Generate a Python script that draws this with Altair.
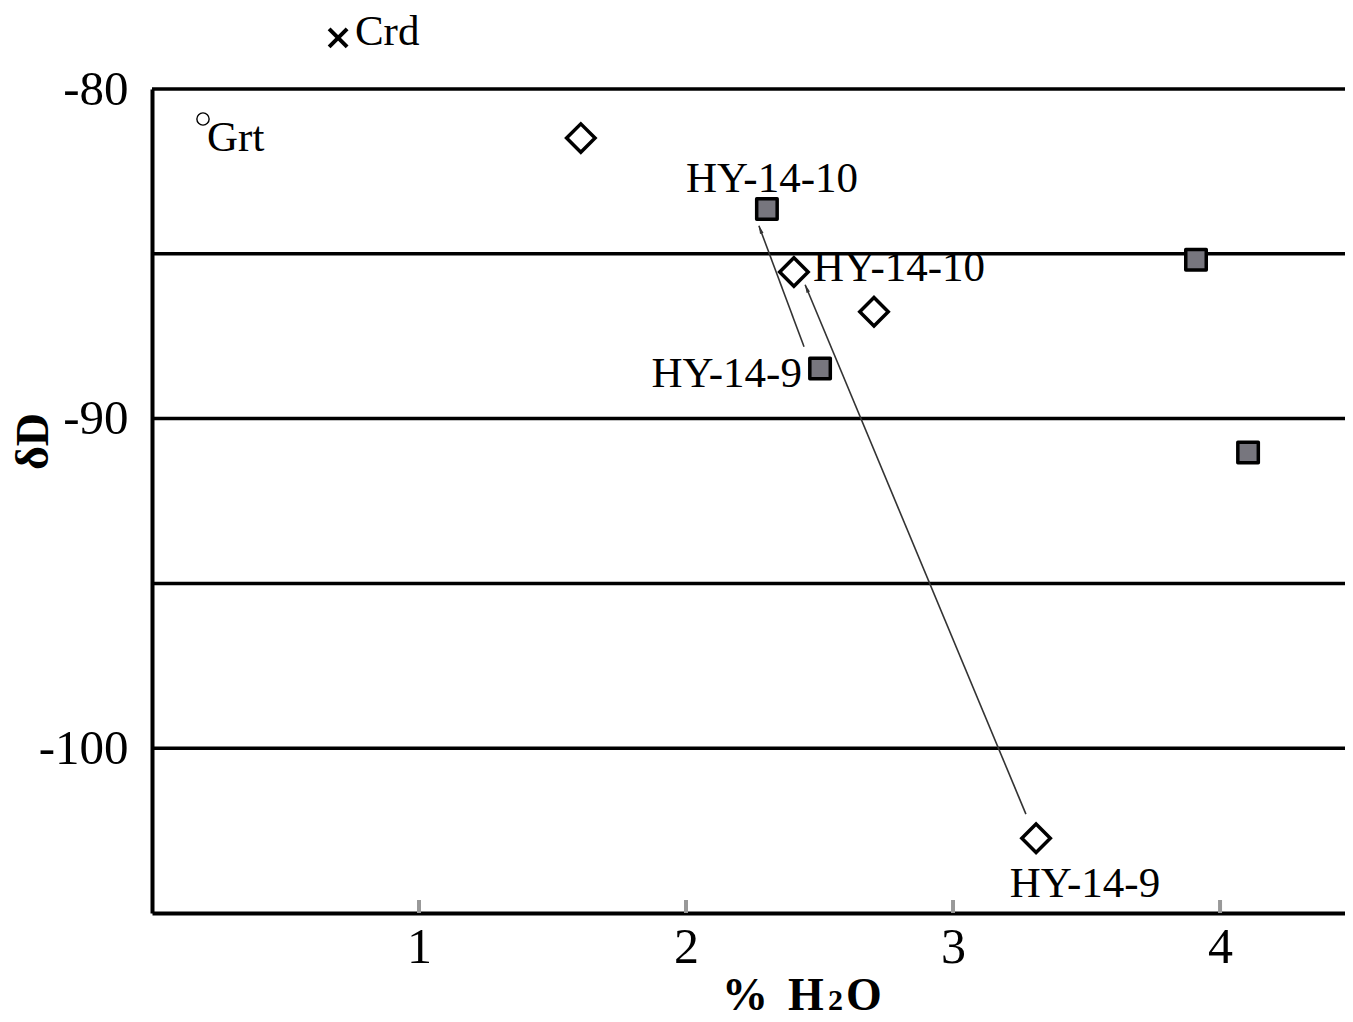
import math
import altair as alt
import pandas as pd

# ---------------- data ----------------
diamond_x = [1.606, 2.404, 2.704, 3.311]
diamond_y = [-81.49, -85.55, -86.76, -102.73]
square_x = [2.303, 2.502, 3.910, 4.105]
square_y = [-83.64, -88.48, -85.18, -91.03]
crd_x = [0.697]
crd_y = [-78.45]
grt_x = [0.191]
grt_y = [-80.91]
arrow_x0 = [2.442, 3.273]
arrow_y0 = [-87.82, -102.0]
arrow_x1 = [2.273, 2.446]
arrow_y1 = [-84.15, -85.94]
grid_y = [-80, -85, -90, -95, -100]
x_ticks = [1, 2, 3, 4]
y_labels = [-80, -90, -100]
lab_center_text = ["HY-14-10", "HY-14-9"]
lab_center_x = [2.322, 3.494]
lab_center_y = [-83.12, -104.52]
lab_left_text = ["HY-14-10", "Crd", "Grt"]
lab_left_x = [2.476, 0.760, 0.206]
lab_left_y = [-85.82, -78.65, -81.88]
lab_right_text = ["HY-14-9"]
lab_right_x = [2.434]
lab_right_y = [-89.03]
x_title_parts = ["%", "H", "2", "O"]

# ---------------- layout ----------------
W, H = 1193, 824
XMIN, XMAX = 0, 4.468
YMIN, YMAX = -105, -80
FONT = "Liberation Serif"

xs = alt.Scale(domain=[XMIN, XMAX], nice=False, zero=False)
ys = alt.Scale(domain=[YMIN, YMAX], nice=False, zero=False)

x_axis = alt.Axis(values=x_ticks, ticks=False, grid=False, domainColor="black",
                  domainWidth=4, labelFontSize=50, labelPadding=9, labelColor="black",
                  labelFont=FONT, labelExpr="datum.value + ''", title="")
y_axis = alt.Axis(values=y_labels, ticks=False, grid=False, domainColor="black",
                  domainWidth=4, labelFontSize=49, labelPadding=24, labelColor="black",
                  labelFont=FONT, labelExpr="datum.value + ''",
                  title="δD", titleFont=FONT, titleFontSize=46, titleFontWeight="bold",
                  titleColor="black", titleAngle=270, titleX=-119, titleY=352,
                  titleBaseline="middle", titleAlign="center")


def X(f="x"):
    return alt.X(f"{f}:Q", scale=xs, axis=x_axis)


def Y(f="y"):
    return alt.Y(f"{f}:Q", scale=ys, axis=y_axis)


px_x = W / (XMAX - XMIN)
px_y = H / (YMAX - YMIN)

# arrows
arrows = pd.DataFrame({"x": arrow_x0, "y": arrow_y0, "x2": arrow_x1, "y2": arrow_y1})
heads = []
for a, b, c, d in zip(arrow_x0, arrow_y0, arrow_x1, arrow_y1):
    dx = (c - a) * px_x
    dy = -(d - b) * px_y
    L = math.hypot(dx, dy)
    ang = math.degrees(math.atan2(dx, -dy)) % 360
    back = 4.0
    heads.append({"x": c - dx / L * back / px_x, "y": d + dy / L * back / px_y, "angle": ang})
heads = pd.DataFrame(heads)

grid = alt.Chart(pd.DataFrame({"y": grid_y})).mark_rule(color="black", strokeWidth=3.5).encode(y=Y())

xt = alt.Chart(pd.DataFrame({"x": x_ticks})).mark_rule(color="#999999", strokeWidth=4).encode(
    x=X(), y=alt.value(H - 13), y2=alt.value(H))

arrow_lines = alt.Chart(arrows).mark_rule(color="#333333", strokeWidth=1.6).encode(
    x=X(), y=Y(), x2="x2:Q", y2="y2:Q")
arrow_heads = alt.Chart(heads).mark_point(shape="M0,-1L0.45,1L-0.45,1Z", filled=True,
                                          color="#333333", size=70, opacity=1).encode(
    x=X(), y=Y(), angle=alt.Angle("angle:Q", scale=None))

diamonds = alt.Chart(pd.DataFrame({"x": diamond_x, "y": diamond_y})).mark_point(
    shape="diamond", size=810, filled=True, fill="white", stroke="black",
    strokeWidth=3.5, opacity=1).encode(x=X(), y=Y())

squares = alt.Chart(pd.DataFrame({"x": square_x, "y": square_y})).mark_point(
    shape="square", size=420, filled=True, fill="#77767e", stroke="black",
    strokeWidth=3.5, strokeJoin="round", opacity=1).encode(x=X(), y=Y())

crd = alt.Chart(pd.DataFrame({"x": crd_x, "y": crd_y})).mark_point(
    shape="M-1,-1L1,1M1,-1L-1,1", size=324, filled=False, stroke="black",
    strokeWidth=4, opacity=1).encode(x=X(), y=Y())

grt = alt.Chart(pd.DataFrame({"x": grt_x, "y": grt_y})).mark_point(
    shape="circle", size=150, filled=False, stroke="black", strokeWidth=1.4,
    opacity=1).encode(x=X(), y=Y())


def labels(text, x, y, align):
    return alt.Chart(pd.DataFrame({"t": text, "x": x, "y": y})).mark_text(
        font=FONT, fontSize=43, color="black", align=align, baseline="alphabetic").encode(
        x=X(), y=Y(), text="t:N")


# x-axis title "% H2O" with a smaller "2", composed of text pieces
TB = H + 97  # baseline of the title, below the plot area
title_specs = [(x_title_parts[0], 570, 46), (x_title_parts[1], 636, 46),
               (x_title_parts[2], 676, 30), (x_title_parts[3], 694, 46)]
title_layers = [
    alt.Chart(pd.DataFrame({"t": [t]})).mark_text(
        font=FONT, fontSize=fs, fontWeight="bold", color="black", align="left",
        baseline="alphabetic").encode(x=alt.value(px), y=alt.value(TB), text="t:N")
    for t, px, fs in title_specs
]

chart = alt.layer(
    grid, xt, arrow_lines, arrow_heads, diamonds, squares, crd, grt,
    labels(lab_center_text, lab_center_x, lab_center_y, "center"),
    labels(lab_left_text, lab_left_x, lab_left_y, "left"),
    labels(lab_right_text, lab_right_x, lab_right_y, "right"),
    *title_layers,
).properties(
    width=W, height=H,
    padding={"left": 144, "top": 81, "right": 0, "bottom": 108},
    autosize=alt.AutoSizeParams(type="none"),
).configure_view(stroke=None).configure(background="white")

chart.save("out.html", embed_options={"renderer": "svg", "actions": False})
